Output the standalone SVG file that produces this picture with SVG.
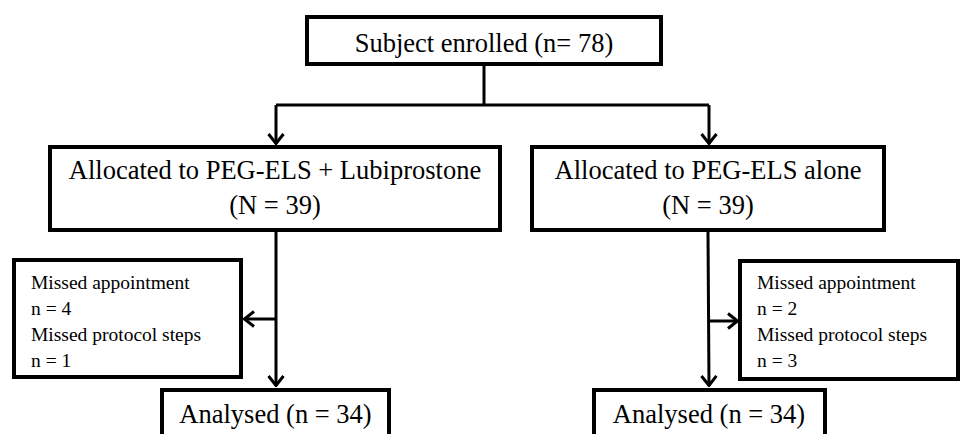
<svg xmlns="http://www.w3.org/2000/svg" width="961" height="434" viewBox="0 0 961 434">
<style>
.box{fill:#fff;stroke:#000;stroke-width:4}
.big{font-family:"Liberation Serif","Times New Roman",serif;font-size:26.5px;fill:#000;text-anchor:middle}
.small{font-family:"Liberation Serif","Times New Roman",serif;font-size:19.5px;fill:#000}
.conn{fill:none;stroke:#000;stroke-width:3}
</style>
<defs>
<marker id="arr" markerUnits="userSpaceOnUse" viewBox="0 0 12 18" refX="11" refY="9" markerWidth="12" markerHeight="18" orient="auto">
<path d="M1,1.5 L10.5,9 L1,16.5" fill="none" stroke="#000" stroke-width="3"/>
</marker>
</defs>
<rect width="961" height="434" fill="#fff"/>
<g id="connectors">
<path class="conn" d="M484,64 V105"/>
<path class="conn" d="M276,105 H709"/>
<path class="conn" d="M276,105 V144" marker-end="url(#arr)"/>
<path class="conn" d="M709,105 V144" marker-end="url(#arr)"/>
<path class="conn" d="M276,232 V386" marker-end="url(#arr)"/>
<path class="conn" d="M276,319 H244" marker-end="url(#arr)"/>
<path class="conn" d="M708,232 L709,386" marker-end="url(#arr)"/>
<path class="conn" d="M708,321 H738" marker-end="url(#arr)"/>
</g>
<g id="enrolled">
<rect class="box" x="307" y="17" width="354" height="47"/>
<text class="big" x="484" y="52">Subject enrolled (n= 78)</text>
</g>
<g id="alloc-lubi">
<rect class="box" x="50" y="147" width="450" height="83"/>
<text class="big" x="275" y="179">Allocated to PEG-ELS + Lubiprostone</text>
<text class="big" x="275" y="214">(N = 39)</text>
</g>
<g id="alloc-alone">
<rect class="box" x="532" y="147" width="352" height="83"/>
<text class="big" x="708" y="179">Allocated to PEG-ELS alone</text>
<text class="big" x="708" y="214">(N = 39)</text>
</g>
<g id="missed-left">
<rect class="box" x="14" y="260" width="227" height="117"/>
<text class="small" x="31" y="289">Missed appointment</text>
<text class="small" x="31" y="315">n = 4</text>
<text class="small" x="31" y="341">Missed protocol steps</text>
<text class="small" x="31" y="367">n = 1</text>
</g>
<g id="missed-right">
<rect class="box" x="740" y="261" width="218" height="118"/>
<text class="small" x="757" y="289">Missed appointment</text>
<text class="small" x="757" y="315">n = 2</text>
<text class="small" x="757" y="341">Missed protocol steps</text>
<text class="small" x="757" y="367">n = 3</text>
</g>
<g id="analysed-left">
<rect class="box" x="162" y="390" width="227" height="60"/>
<text class="big" x="275.5" y="423">Analysed (n = 34)</text>
</g>
<g id="analysed-right">
<rect class="box" x="594" y="390" width="231" height="60"/>
<text class="big" x="709" y="423">Analysed (n = 34)</text>
</g>
</svg>
